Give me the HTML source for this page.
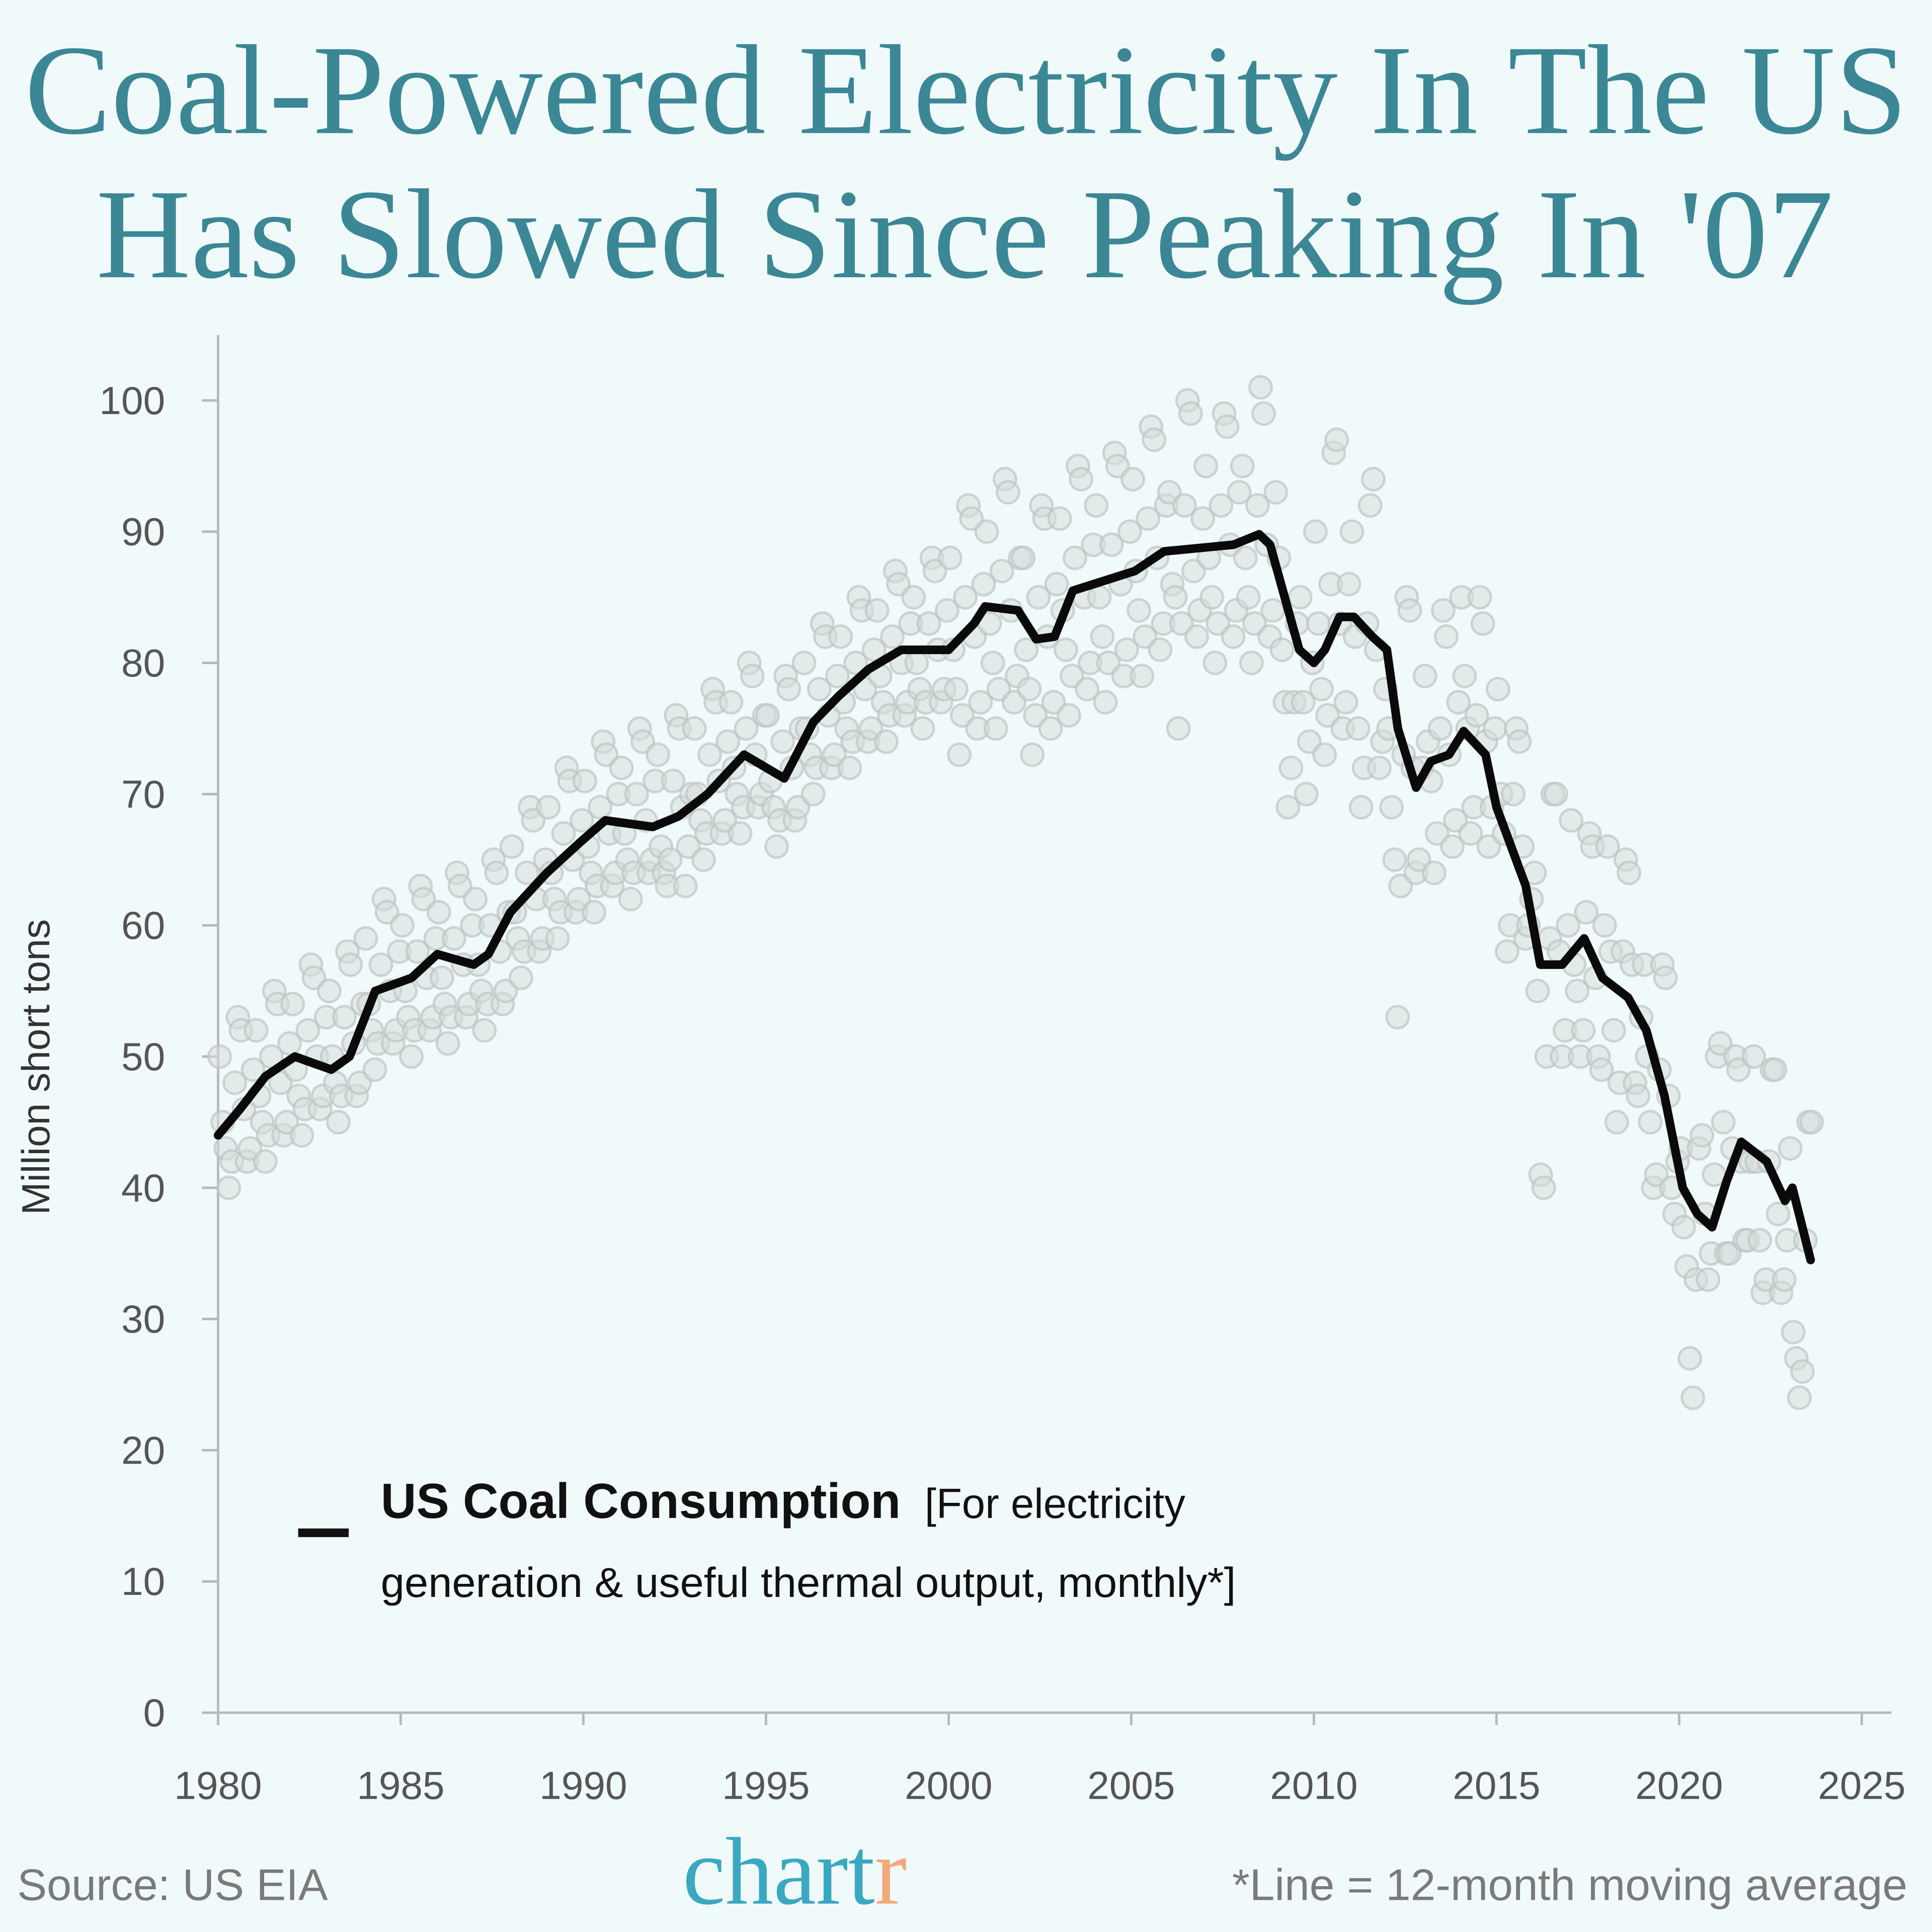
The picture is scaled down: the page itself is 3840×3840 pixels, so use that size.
<!DOCTYPE html>
<html><head><meta charset="utf-8">
<style>
html,body{margin:0;padding:0;background:#f1fafa;}
svg{display:block;}
</style></head>
<body>
<svg id="chart" width="3840" height="3840" viewBox="0 0 1568 1568" xmlns="http://www.w3.org/2000/svg">
<rect width="1568" height="1568" fill="#f1fafa"/>
<g fill="#3b8795" font-family="'Liberation Serif', serif">
<text x="20" y="108" font-size="104" textLength="1528" lengthAdjust="spacingAndGlyphs">Coal-Powered Electricity In The US</text>
<text x="78" y="225" font-size="104" textLength="1410" lengthAdjust="spacingAndGlyphs">Has Slowed Since Peaking In '07</text>
</g>
<g id="axes"></g>
<g id="dots"></g>
<g id="line"></g>
<g font-family="'Liberation Sans', sans-serif" fill="#111">
<line x1="242" y1="1244" x2="283" y2="1244" stroke="#111" stroke-width="7"/>
<text x="309" y="1232"><tspan font-size="40" font-weight="bold" textLength="422" lengthAdjust="spacingAndGlyphs">US Coal Consumption</tspan><tspan font-size="34" dx="10"> [For electricity</tspan></text>
<text x="309" y="1296" font-size="34" textLength="694" lengthAdjust="spacingAndGlyphs">generation &amp; useful thermal output, monthly*]</text>
</g>
<g font-family="'Liberation Sans', sans-serif">
<text x="14" y="1542" font-size="36" fill="#7a7a7a">Source: US EIA</text>
<text x="645" y="1545" font-size="78" text-anchor="middle" font-family="'Liberation Serif', serif" fill="#3aa8c0">chart<tspan fill="#f2aa7c">r</tspan></text>
<text x="1548" y="1542" font-size="36" fill="#7a7a7a" text-anchor="end" textLength="548" lengthAdjust="spacingAndGlyphs">*Line = 12-month moving average</text>
</g>
</svg>
<script>
const yTicks = [0,10,20,30,40,50,60,70,80,90,100];
const xTicks = [1980,1985,1990,1995,2000,2005,2010,2015,2020,2025];
const scatterYears = [1980,1981,1982,1983,1984,1985,1986,1987,1988,1989,1990,1991,1992,1993,1994,1995,1996,1997,1998,1999,2000,2001,2002,2003,2004,2005,2006,2007,2008,2009,2010,2011,2012,2013,2014,2015,2016,2017,2018,2019,2020,2021,2022,2023];
const monthlyValues = [
[50,45,43,40,42,48,53,52,46,42,43,49],
[52,47,45,42,44,50,55,54,48,44,45,51],
[54,49,47,44,46,52,57,56,50,46,47,53],
[55,50,48,45,47,53,58,57,51,47,48,54],
[59,54,52,49,51,57,62,61,55,51,52,58],
[60,55,53,50,52,58,63,62,56,52,53,59],
[61,56,54,51,53,59,64,63,57,53,54,60],
[62,57,55,52,54,60,65,64,58,54,55,61],
[66,61,59,56,58,64,69,68,62,58,59,65],
[69,64,62,59,61,67,72,71,65,61,62,68],
[71,66,64,61,63,69,74,73,67,63,64,70],
[72,67,65,62,64,70,75,74,68,64,65,71],
[73,66,64,63,65,71,76,75,69,63,66,70],
[75,70,68,65,67,73,78,77,71,67,68,74],
[77,72,70,67,69,75,80,79,73,69,70,76],
[76,71,69,66,68,74,79,78,72,68,69,75],
[80,75,73,70,72,78,83,82,76,72,73,79],
[82,77,75,72,74,80,85,84,78,74,75,81],
[84,79,77,74,76,82,87,86,80,76,77,83],
[85,80,78,75,77,83,88,87,81,77,78,84],
[88,81,78,73,76,85,92,91,82,75,77,86],
[90,83,80,75,78,87,94,93,84,77,79,88],
[88,81,78,73,76,85,92,91,82,75,77,86],
[91,84,81,76,79,88,95,94,85,78,80,89],
[92,85,82,77,80,89,96,95,86,79,81,90],
[94,87,84,79,82,91,98,97,88,81,83,92],
[93,86,85,75,83,92,100,99,87,82,84,91],
[95,88,85,80,83,92,99,98,89,82,84,93],
[95,88,85,80,83,92,101,99,89,82,84,93],
[88,81,77,69,72,77,83,85,77,70,74,80],
[90,83,78,73,76,86,96,97,83,75,77,86],
[90,82,75,69,72,83,92,94,81,72,74,78],
[75,69,65,53,63,73,85,84,72,64,65,72],
[79,74,71,64,67,75,84,82,73,66,68,77],
[85,79,75,67,69,76,85,83,74,66,69,75],
[78,70,67,58,60,70,75,74,66,59,60,62],
[64,55,41,40,50,59,70,70,58,50,52,60],
[68,57,55,50,52,61,67,66,56,50,49,60],
[66,58,52,45,48,58,65,64,57,48,47,53],
[57,50,45,40,41,49,57,56,47,40,38,42],
[43,37,34,27,24,33,43,44,38,33,35,41],
[50,51,45,35,35,43,50,49,42,36,36,42],
[50,42,36,32,33,42,49,49,38,32,33,36],
[43,29,27,24,26,36,45,45]
];
const lineYears = [1980,1980.6,1981.3,1982.1,1983.1,1983.6,1984.3,1985.3,1986,1987,1987.4,1988,1989,1989.9,1990.6,1991.9,1992.6,1993.4,1994.4,1995.5,1996.3,1997,1997.8,1998.7,2000,2000.7,2001,2001.9,2002.4,2002.9,2003.4,2005.1,2005.9,2007.8,2008.5,2008.8,2009.3,2009.6,2010,2010.3,2010.7,2011.1,2011.6,2012,2012.3,2012.8,2013.2,2013.7,2014.1,2014.7,2015,2015.8,2016.2,2016.8,2017.4,2017.9,2018.6,2019.1,2019.6,2020.1,2020.5,2020.9,2021.3,2021.7,2022.4,2022.9,2023.1,2023.6];
const lineValues = [44,46,48.5,50,49,50,55,56,57.8,57,57.8,61,64,66.3,68,67.5,68.3,70,73,71.2,75.5,77.5,79.5,81,81,83,84.3,84,81.8,82,85.5,87,88.5,89,89.8,89,84,81,80,81,83.5,83.5,82,81,75,70.5,72.5,73,74.8,73,69,63,57,57,59,56,54.5,52,47,40,38,37,40.5,43.5,42,39,40,34.5];

const NS='http://www.w3.org/2000/svg';
const X0=177, PX_PER_YEAR=(1511-177)/45, Y0=1390, PX_PER_UNIT=106.5/10;
function xScale(yr){return X0+(yr-1980)*PX_PER_YEAR;}
function yScale(v){return Y0-v*PX_PER_UNIT;}
function mk(tag,attrs,parent){const e=document.createElementNS(NS,tag);for(const k in attrs)e.setAttribute(k,attrs[k]);parent.appendChild(e);return e;}

const axes=document.getElementById('axes');
let e=mk('line',{x1:X0,y1:272,x2:X0,y2:Y0,stroke:'#b5b9b9','stroke-width':2},axes);


e=mk('line',{x1:X0,y1:Y0,x2:1535,y2:Y0,stroke:'#b5b9b9','stroke-width':2},axes);


yTicks.forEach(t=>{
  const y=yScale(t);
  const tk=mk('line',{x1:164,y1:y,x2:X0,y2:y,stroke:'#b5b9b9','stroke-width':2},axes);
  
  
  const lb=mk('text',{x:134,y:y+11,'text-anchor':'end','font-size':32,fill:'#555','font-family':"'Liberation Sans', sans-serif"},axes);
  lb.textContent=t;
  
  
});
xTicks.forEach(t=>{
  const x=xScale(t);
  const tk=mk('line',{x1:x,y1:Y0,x2:x,y2:Y0+10,stroke:'#b5b9b9','stroke-width':2},axes);
  
  
  const lb=mk('text',{x:x,y:1460,'text-anchor':'middle','font-size':32,fill:'#555','font-family':"'Liberation Sans', sans-serif"},axes);
  lb.textContent=t;
  
  
});
const yt=mk('text',{x:0,y:0,transform:'translate(40,866) rotate(-90)','text-anchor':'middle','font-size':32,fill:'#333','font-family':"'Liberation Sans', sans-serif"},axes);
yt.textContent='Million short tons';



const dots=document.getElementById('dots');
scatterYears.forEach((yr,i)=>{
  monthlyValues[i].forEach((v,m)=>{
    const c=mk('circle',{cx:xScale(yr+(m+0.5)/12),cy:yScale(v),r:9,fill:'#d6dcdc','fill-opacity':0.55,stroke:'#bfc4c4','stroke-opacity':0.7,'stroke-width':2},dots);
    
    
  });
});

const lg=document.getElementById('line');
const d=lineYears.map((yr,i)=>(i?'L':'M')+xScale(yr).toFixed(1)+','+yScale(lineValues[i]).toFixed(1)).join(' ');
const p=mk('path',{d:d,fill:'none',stroke:'#0a0a0a','stroke-width':7,'stroke-linejoin':'round','stroke-linecap':'round'},lg);


</script>
</body></html>
